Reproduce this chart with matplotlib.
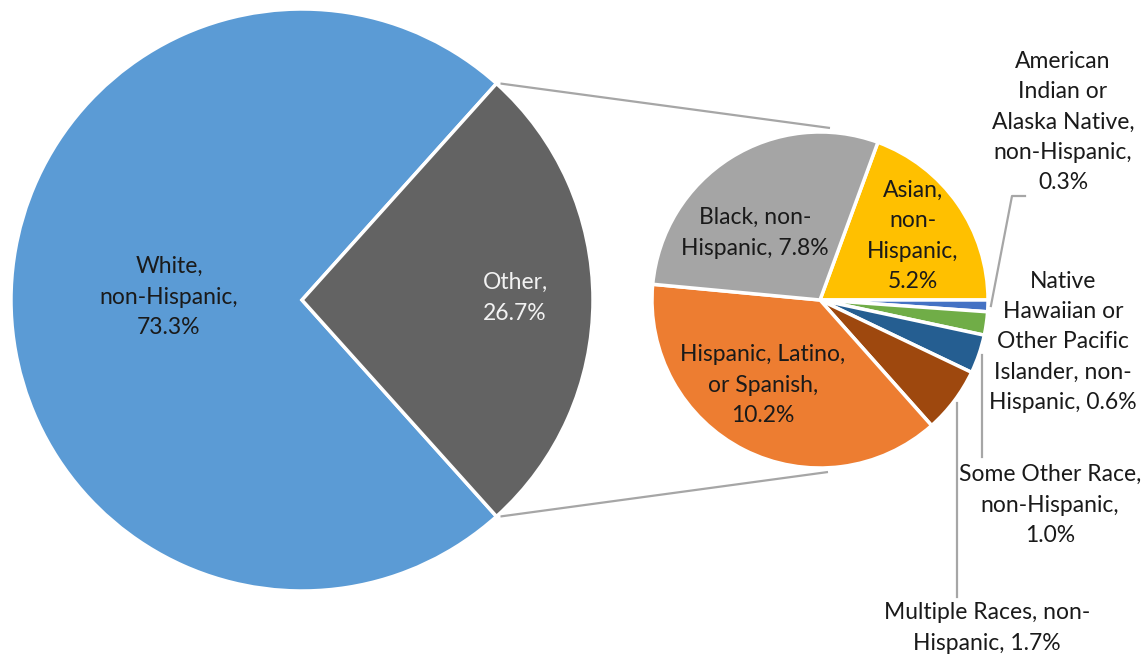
import matplotlib
matplotlib.use("Agg")
import matplotlib.pyplot as plt
import numpy as np

W, H = 1146, 657

# Main pie: share of population
main_names = ["White,\nnon-Hispanic,\n{v:.1f}%", "Other,\n{v:.1f}%"]
main_values = [73.3, 26.7]
main_colors = ["#5B9BD5", "#636363"]

# Breakdown of "Other" (clockwise from the top-right)
sub_names = [
    "Asian,\nnon-\nHispanic,\n{v:.1f}%",
    "American\nIndian or\nAlaska Native,\nnon-Hispanic,\n{v:.1f}%",
    "Native\nHawaiian or\nOther Pacific\nIslander, non-\nHispanic, {v:.1f}%",
    "Some Other Race,\nnon-Hispanic,\n{v:.1f}%",
    "Multiple Races, non-\nHispanic, {v:.1f}%",
    "Hispanic, Latino,\nor Spanish,\n{v:.1f}%",
    "Black, non-\nHispanic, {v:.1f}%",
]
sub_values = [5.2, 0.3, 0.6, 1.0, 1.7, 10.2, 7.8]
sub_colors = ["#FFC000", "#4472C4", "#70AD47", "#255E91", "#9E480E", "#ED7D31", "#A5A5A5"]

FONT = ["Lato", "DejaVu Sans"]
FS = 16.5
LS = 1.55


def P(x, y):
    """Pixel position (origin top-left) to axes data coordinates."""
    return (x, H - y)


fig = plt.figure(figsize=(W / 100, H / 100), dpi=100)
ax = fig.add_axes([0, 0, 1, 1])

# ---- main pie ----
main_c = (302, 300)
main_r = 291
half_other = main_values[1] / sum(main_values) * 180
main_wedges, _ = ax.pie(main_values, colors=main_colors, center=P(*main_c), radius=main_r,
                        startangle=half_other, counterclock=True,
                        wedgeprops=dict(edgecolor="white", linewidth=2.5))

# ---- secondary pie ----
sub_c = (820, 300)
sub_r = 168
sub_start = sub_values[0] / sum(sub_values) * 360
sub_wedges, _ = ax.pie(sub_values, colors=sub_colors, center=P(*sub_c), radius=sub_r,
                       startangle=sub_start, counterclock=False,
                       wedgeprops=dict(edgecolor="white", linewidth=2.5))

ax.set_xlim(0, W)
ax.set_ylim(0, H)
ax.set_aspect("equal")
ax.axis("off")

# ---- connector lines between pies ----
cx, cy = P(*main_c)
for sgn, target in [(1, (830, 128)), (-1, (828, 472))]:
    a = np.deg2rad(sgn * half_other)
    x0, y0 = cx + main_r * np.cos(a), cy + main_r * np.sin(a)
    tx, ty = P(*target)
    ax.plot([x0 + 4, tx], [y0, ty], color="#A6A6A6", lw=1.6, solid_capstyle="butt", zorder=0)

# ---- main labels ----
main_pos = [(169, 297), (515, 298)]
main_tc = ["#1A1A1A", "#F2F2F2"]
for name, v, pos, tc in zip(main_names, main_values, main_pos, main_tc):
    ax.text(*P(*pos), name.format(v=v), ha="center", va="center", fontsize=FS,
            family=FONT, color=tc, linespacing=LS, multialignment="center")

# ---- secondary labels ----
sub_pos = [(913, 236), (1063, 122), (1063, 342), (1050, 505), (987, 628), (763, 385), (755, 233)]
for name, v, pos in zip(sub_names, sub_values, sub_pos):
    ax.text(*P(*pos), name.format(v=v), ha="center", va="center", fontsize=FS,
            family=FONT, color="#1A1A1A", linespacing=LS, multialignment="center")

# ---- leader lines for the thin slices ----
scx, scy = P(*sub_c)


def edge_point(w, extra=3):
    mid = np.deg2rad((w.theta1 + w.theta2) / 2)
    return scx + (sub_r + extra) * np.cos(mid), scy + (sub_r + extra) * np.sin(mid)


lc = dict(color="#A6A6A6", lw=1.6, zorder=3)
# American Indian / Alaska Native
ex, ey = edge_point(sub_wedges[1])
kx, ky = P(1012, 196)
ax.plot([ex, kx, kx + 13], [ey, ky, ky], **lc)
# Some Other Race
ex, ey = edge_point(sub_wedges[3])
ax.plot([ex, ex], [ey, P(0, 457)[1]], **lc)
# Multiple Races
ex, ey = edge_point(sub_wedges[4])
ax.plot([ex, ex], [ey, P(0, 597)[1]], **lc)

fig.savefig("out.png", dpi=100, facecolor="white")
